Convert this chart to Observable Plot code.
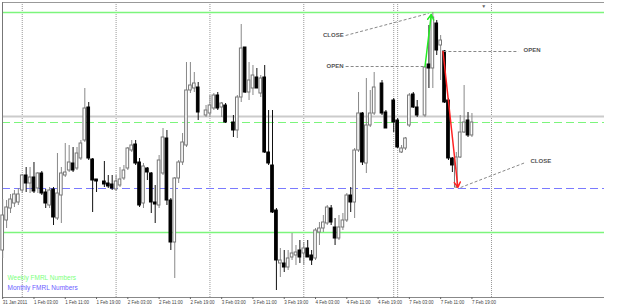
<!DOCTYPE html>
<html><head><meta charset="utf-8">
<script src="https://cdn.jsdelivr.net/npm/d3@7"></script>
<script src="https://cdn.jsdelivr.net/npm/@observablehq/plot@0.6"></script>
<style>html,body{margin:0;padding:0;background:#fff;} #chart svg{display:block;}</style>
</head><body><div id="chart"></div>
<script>
// H1 bars from 31 Jan 2011 19:00 (index 0). null = no visible bar.
const opens  = [50,80,92,97,98,110,125,117,123,112,127,108,95,111,82,105,125,130,137,132,142,160,193,141,121,null,119,117,116,111,115,122,132,150,156,138,97,132,127,98,95,127,162,100,58,122,138,155,210,212,213,null,185,187,192,205,193,195,null,178,170,203,253,208,212,223,207,223,148,135,90,37,37,33,43,45,50,47,52,45,42,68,72,77,92,73,62,73,80,105,98,150,187,137,175,187,null,217,188,null,200,180,148,152,175,206,193,null,185,236,232,277,255,249,200,142,113,143,168,180,165];
const highs  = [101,100,106,110,112,126,133,133,138,128,129,111,113,113,147,133,157,155,153,153,160,212,198,142,121,null,139,125,125,125,133,135,153,160,160,142,137,133,128,115,145,172,170,102,123,140,167,238,238,228,218,null,195,205,207,208,198,197,null,185,205,276,253,238,235,232,225,235,190,190,92,52,50,50,67,55,60,58,60,50,72,78,85,95,95,82,85,87,107,113,152,208,188,222,210,228,null,220,190,null,202,182,155,163,207,208,200,null,234,275,288,280,265,250,202,143,148,185,215,188,187];
const lows   = [42,72,87,93,95,107,108,107,107,107,105,92,92,75,80,77,123,128,128,130,140,158,140,88,108,null,113,112,110,109,113,120,130,148,135,93,92,120,87,77,92,125,95,50,22,117,135,153,207,208,180,null,183,183,190,190,183,177,null,163,162,198,207,200,205,212,203,147,135,87,10,23,28,30,40,35,37,35,43,35,40,55,68,75,75,55,60,70,78,88,82,148,135,127,173,185,null,185,172,null,168,152,147,150,173,192,183,null,183,212,212,245,220,197,140,128,112,142,167,163,163];
const closes = [85,93,101,106,106,125,117,123,109,127,107,97,110,83,107,127,128,138,130,147,157,192,142,120,119,null,116,114,112,119,121,130,152,155,137,95,134,128,98,96,140,163,100,58,122,138,158,210,215,217,188,null,190,195,205,192,197,178,null,170,203,252,208,220,225,212,222,148,137,88,40,40,33,42,47,48,43,52,43,40,70,72,78,93,78,62,73,80,105,98,150,187,138,175,187,213,null,187,172,null,178,153,152,162,205,193,185,null,233,232,283,250,260,198,142,135,143,168,178,165,178];

const tickBars   = [0,8,16,24,32,40,48,56,64,72,80,88,96,104,112,120];
const tickLabels = ["31 Jan 2011","1 Feb 03:00","1 Feb 11:00","1 Feb 19:00","2 Feb 03:00","2 Feb 11:00","2 Feb 19:00","3 Feb 03:00","3 Feb 11:00","3 Feb 19:00","4 Feb 03:00","4 Feb 11:00","4 Feb 19:00","7 Feb 03:00","7 Feb 11:00","7 Feb 19:00"];
const separatorBars = [5,29,53,77,100,101,125];

const weeklySolid  = [288,68];   // Weekly FMRL numbers (solid)
const weeklyDashed = [178];      // Weekly FMRL mid (dashed)
const monthlyDashed = [112];     // Monthly FMRL number (dashed)
const greyLevel = [184];

// annotations: arrows and call-outs (bar index, price)
const arrowUp   = {x1:108, y1:234, x2:109.6, y2:286};
const arrowDown = {x1:112.6, y1:249, x2:116.4, y2:113};
const noteLabels = ["CLOSE","OPEN","OPEN","CLOSE"];
const noteX1 = [87.7,87.7,112.7,117.1];
const noteY1 = [265,234,249,113];
const noteX2 = [108.9,107.6,131.9,133.7];
const noteY2 = [287,234,249,138];
const noteSide = ["left","left","right","right"];

const legendItems = ["Weekly FMRL Numbers","Monthly FMRL Numbers"];
const legendColors = ["#7dff7d","#6c5cff"];

const candles = opens.map((o,i)=> o==null ? null : ({i, open:o, high:highs[i], low:lows[i], close:closes[i], up: closes[i] >= o})).filter(Boolean);
const notes = noteLabels.map((t,k)=>({t, x1:noteX1[k], y1:noteY1[k], x2:noteX2[k], y2:noteY2[k], side:noteSide[k]}));
const labelMap = new Map(tickBars.map((b,k)=>[b,tickLabels[k]]));

const chart = Plot.plot({
  width:625, height:307,
  marginLeft:2, marginRight:21, marginTop:2, marginBottom:10,
  x:{domain:[-0.05,153.9], axis:null},
  y:{domain:[3,298], axis:null},
  style:{fontFamily:"'Liberation Sans', Arial, sans-serif", background:"#fff", overflow:"visible"},
  marks:[
    Plot.ruleX(separatorBars,{stroke:"#999", strokeDasharray:"1,1"}),
    Plot.ruleY(greyLevel,{stroke:"#cbcbcb", strokeWidth:2}),
    Plot.ruleY(weeklySolid,{stroke:"#7cf57c", strokeWidth:1.5}),
    Plot.ruleY(weeklyDashed,{stroke:"#7cf57c", strokeWidth:1.2, strokeDasharray:"8,4"}),
    Plot.ruleY(monthlyDashed,{stroke:"#7a7aff", strokeWidth:1.2, strokeDasharray:"8,4"}),
    // frame lines
    Plot.ruleY([298],{stroke:"#999"}),
    Plot.ruleX([-0.05],{stroke:"#777"}),
    Plot.ruleY([3],{stroke:"#888"}),
    // candles
    Plot.ruleX(candles,{x:"i", y1:"low", y2:"high", stroke:d=>d.up?"#888":"#111", strokeWidth:1}),
    Plot.rect(candles,{x1:d=>d.i-0.34, x2:d=>d.i+0.34, y1:"open", y2:"close",
      fill:d=>d.up?"#fff":"#000", stroke:d=>d.up?"#777":"#000", strokeWidth:1}),
    // call-out lines
    Plot.link(notes,{x1:"x1", y1:"y1", x2:"x2", y2:"y2", stroke:"#888", strokeDasharray:"3,2"}),
    Plot.text(notes.filter(d=>d.side==="left"),{x:"x1", y:"y1", text:"t", textAnchor:"end", dx:-2, fontSize:6, fontWeight:"bold", fill:"#555"}),
    Plot.text(notes.filter(d=>d.side==="right"),{x:"x2", y:"y2", text:"t", textAnchor:"start", dx:5, dy:-1, fontSize:6, fontWeight:"bold", fill:"#555"}),
    // arrows
    Plot.arrow([arrowUp],{x1:"x1", y1:"y1", x2:"x2", y2:"y2", stroke:"#22ee22", strokeWidth:1.5, headLength:6}),
    Plot.arrow([arrowDown],{x1:"x1", y1:"y1", x2:"x2", y2:"y2", stroke:"#ff2222", strokeWidth:1.5, headLength:6}),
    // shift marker
    Plot.text([123],{x:d=>d, frameAnchor:"top", text:()=>"▼", fontSize:5, fill:"#666", dy:2}),
    // legend (two rows)
    Plot.text([legendItems[0]],{frameAnchor:"bottom-left", text:d=>d, fill:legendColors[0], dx:5, dy:-18, textAnchor:"start", fontSize:6.5}),
    Plot.text([legendItems[1]],{frameAnchor:"bottom-left", text:d=>d, fill:legendColors[1], dx:5, dy:-8, textAnchor:"start", fontSize:6.5}),
    // x axis
    Plot.axisX(tickBars,{anchor:"bottom", tickSize:2, tickPadding:1, tickFormat:d=>labelMap.get(d), textAnchor:"start", fontSize:4.5, stroke:"#666", fill:"#444"})
  ]
});
document.getElementById("chart").appendChild(chart);
</script>
</body></html>
